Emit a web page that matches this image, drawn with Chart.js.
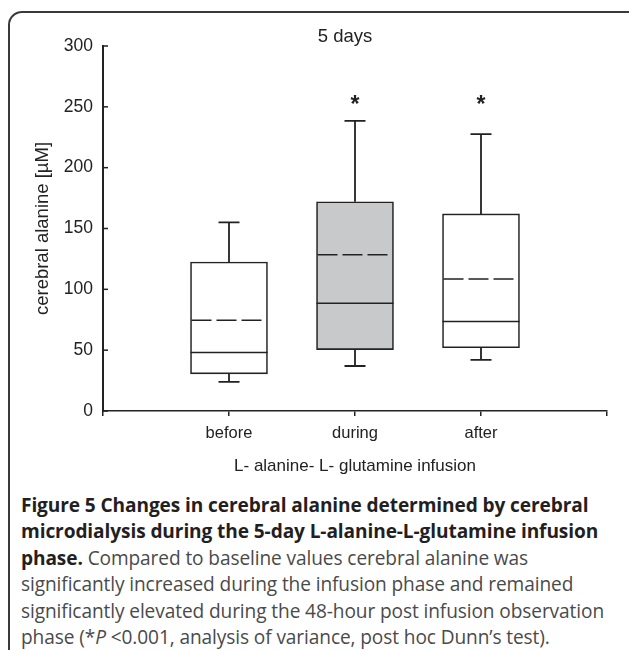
<!DOCTYPE html>
<html>
<head>
<meta charset="utf-8">
<script src="https://cdn.jsdelivr.net/npm/chart.js@4.4.0/dist/chart.umd.min.js"></script>
<style>
body { margin:0; background:#fff; width:629px; height:650px; overflow:hidden; position:relative; }
#marco { position:absolute; left:8px; top:11px; width:640px; height:700px; border:2px solid #3a3a3a; border-radius:14px; }
#grafico { position:absolute; left:0; top:0; }
#leyenda { position:absolute; left:21px; top:492px; font-family:'Open Sans', sans-serif; font-size:19.1px; line-height:26.4px; color:#4a4a4a; white-space:nowrap; letter-spacing:-0.1px; }
#leyenda b { color:#231f20; }
</style>
</head>
<body>
<div id="marco"></div>
<canvas id="grafico" width="629" height="490"></canvas>
<div id="leyenda"><b>Figure 5 Changes in cerebral alanine determined by cerebral<br>microdialysis during the 5-day L-alanine-L-glutamine infusion<br>phase.</b> Compared to baseline values cerebral alanine was<br>significantly increased during the infusion phase and remained<br>significantly elevated during the 48-hour post infusion observation<br>phase (*<i>P</i> &lt;0.001, analysis of variance, post hoc Dunn’s test).</div>
<script>
// datos (uM)
const categorias = ['before', 'during', 'after'];
const minimos = [24, 37, 42];
const cuartil1 = [30.5, 50.5, 52];
const medianas = [48, 88.5, 73.5];
const medias = [74.5, 128.5, 108.5];
const cuartil3 = [122.5, 172, 162];
const maximos = [155, 238.5, 227.5];
const significativo = [false, true, true];
const coloresCaja = ['#ffffff', '#c8c9cb', '#ffffff'];

const fuente = "'Liberation Sans', Arial, sans-serif";
const tinta = '#222';

// bigotes, mediana, media, asteriscos y textos
const pluginCajas = {
    id: 'cajas',
    afterDatasetsDraw(chart) {
        const ctx = chart.ctx;
        const xs = chart.scales.x, ys = chart.scales.y;
        const meta = chart.getDatasetMeta(0);
        ctx.save();
        ctx.strokeStyle = tinta;
        categorias.forEach((c, i) => {
            const x = xs.getPixelForValue(i + 1);
            const mitad = meta.data[i].width / 2;
            const tapa = 10.5;
            ctx.setLineDash([]);
            ctx.lineWidth = 1.8;
            ctx.beginPath();
            ctx.moveTo(x, ys.getPixelForValue(cuartil3[i]));
            ctx.lineTo(x, ys.getPixelForValue(maximos[i]));
            ctx.moveTo(x - tapa, ys.getPixelForValue(maximos[i]));
            ctx.lineTo(x + tapa, ys.getPixelForValue(maximos[i]));
            ctx.moveTo(x, ys.getPixelForValue(cuartil1[i]));
            ctx.lineTo(x, ys.getPixelForValue(minimos[i]));
            ctx.moveTo(x - tapa, ys.getPixelForValue(minimos[i]));
            ctx.lineTo(x + tapa, ys.getPixelForValue(minimos[i]));
            ctx.stroke();
            // mediana
            ctx.lineWidth = 1.5;
            ctx.beginPath();
            ctx.moveTo(x - mitad, ys.getPixelForValue(medianas[i]));
            ctx.lineTo(x + mitad, ys.getPixelForValue(medianas[i]));
            ctx.stroke();
            // media (discontinua)
            ctx.setLineDash([20, 5]);
            ctx.beginPath();
            ctx.moveTo(x - mitad + 1, ys.getPixelForValue(medias[i]));
            ctx.lineTo(x + mitad - 1, ys.getPixelForValue(medias[i]));
            ctx.stroke();
            if (significativo[i]) {
                ctx.fillStyle = tinta;
                ctx.font = "bold 23px " + fuente;
                ctx.textAlign = 'center';
                ctx.textBaseline = 'middle';
                ctx.fillText('*', x, ys.getPixelForValue(251));
            }
        });
        ctx.restore();
    },
    afterDraw(chart) {
        const ctx = chart.ctx;
        const ys = chart.scales.y;
        const area = chart.chartArea;
        ctx.save();
        // marcas del eje y hacia dentro
        ctx.strokeStyle = tinta;
        ctx.lineWidth = 1.5;
        ys.ticks.forEach(t => {
            const y = ys.getPixelForValue(t.value);
            ctx.beginPath();
            ctx.moveTo(area.left, y);
            ctx.lineTo(area.left + 5, y);
            ctx.stroke();
        });
        ctx.fillStyle = tinta;
        ctx.textAlign = 'center';
        ctx.textBaseline = 'middle';
        ctx.font = "18.5px " + fuente;
        ctx.fillText('5 days', 345, 37);
        ctx.font = "17px " + fuente;
        ctx.fillText('L- alanine- L- glutamine infusion', (area.left + area.right) / 2, 466);
        ctx.translate(43, (area.top + area.bottom) / 2);
        ctx.rotate(-Math.PI / 2);
        ctx.font = "18.5px " + fuente;
        ctx.fillText('cerebral alanine [\u00b5M]', 0, 0);
        ctx.restore();
    }
};

new Chart(document.getElementById('grafico'), {
    type: 'bar',
    data: {
        datasets: [{
            data: categorias.map((c, i) => ({ x: i + 1, y: [cuartil1[i], cuartil3[i]] })),
            backgroundColor: coloresCaja,
            borderColor: tinta,
            borderWidth: 1.6,
            borderSkipped: false,
            barThickness: 77
        }]
    },
    options: {
        responsive: false,
        animation: false,
        layout: { padding: { left: 8, right: 22, top: 46, bottom: 0 } },
        plugins: { legend: { display: false }, tooltip: { enabled: false } },
        scales: {
            x: {
                type: 'linear',
                offset: false,
                min: 0,
                max: 4,
                afterFit: s => { s.height = 79; },
                ticks: {
                    stepSize: 1,
                    autoSkip: false,
                    maxRotation: 0,
                    padding: 8,
                    color: tinta,
                    font: { family: fuente, size: 16.5 },
                    callback: v => categorias[v - 1] || ''
                },
                grid: { offset: false, drawOnChartArea: false, drawTicks: true, tickLength: 5, color: tinta, lineWidth: 1.5 },
                border: { color: tinta, width: 1.5 }
            },
            y: {
                min: 0,
                max: 300,
                afterFit: s => { s.width = 95; },
                ticks: {
                    stepSize: 50,
                    padding: 10,
                    color: tinta,
                    font: { family: fuente, size: 17.5 }
                },
                grid: { drawOnChartArea: false, drawTicks: false },
                border: { color: tinta, width: 2 }
            }
        }
    },
    plugins: [pluginCajas]
});
</script>
</body>
</html>
